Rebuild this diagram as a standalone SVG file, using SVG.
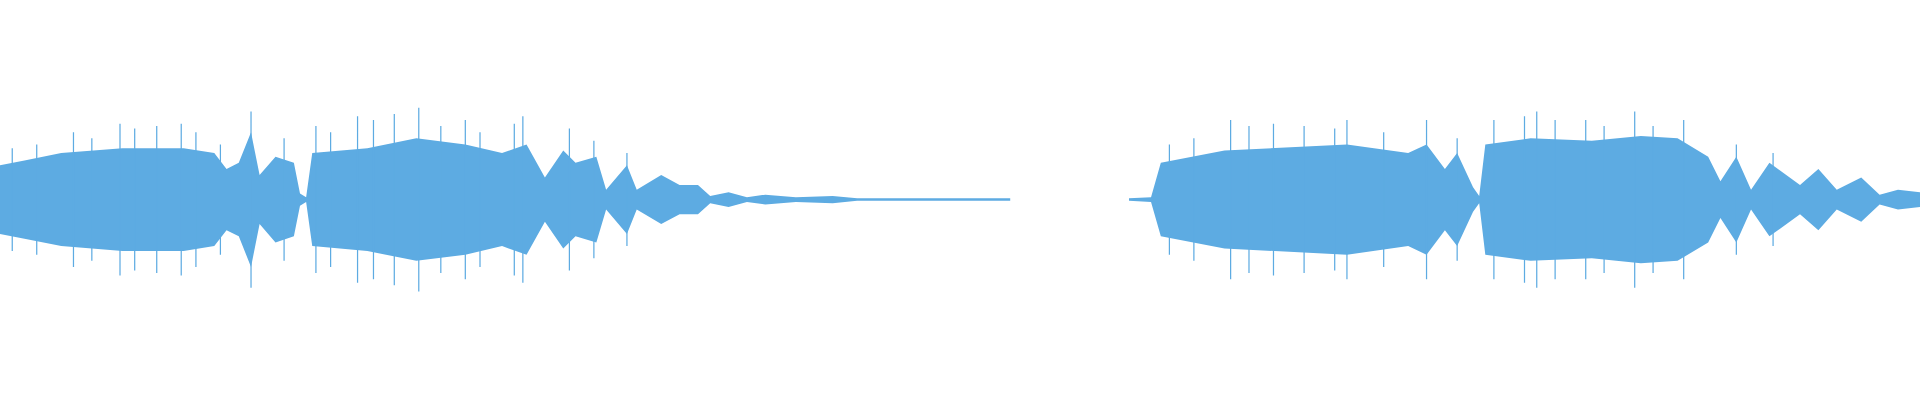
<svg xmlns="http://www.w3.org/2000/svg" width="1920" height="400" viewBox="0 0 1920 400">
<style>.core{fill:#5dabe2}.sp{stroke:#5dabe2;stroke-width:1;fill:none}</style>
<rect width="1920" height="400" fill="#fff"/>
<g id="waveform" transform="scale(1.2245)">
<polygon class="core" points="0,135 20,131 50,125 100,121 150,121 175,125 185,138 195,133 205,108 212,143 225,128 240,133 245,158 250,161 255,125 300,121 340,113 380,118 410,125 430,118 445,145 460,123 470,133 487,128 495,155 512,135 520,155 540,143 555,151 570,151 580,160 595,157 610,161 625,159 650,161 680,160 700,162 825,162 825,164 700,164 680,166 650,165 625,167 610,165 595,169 580,166 570,175 555,175 540,183 520,171 512,191 495,171 487,198 470,193 460,203 445,181 430,208 410,201 380,208 340,213 300,205 255,201 250,165 245,168 240,193 225,198 212,183 205,218 195,193 185,188 175,201 150,205 100,205 50,201 20,195 0,191"/>
<polygon class="core" points="922,162 940,161 948,133 1000,123 1100,118 1150,125 1165,118 1180,138 1190,125 1203,153 1208,160 1213,118 1250,113 1300,115 1340,111 1370,113 1395,128 1405,148 1418,128 1430,155 1445,133 1470,151 1485,138 1500,155 1520,145 1535,159 1550,155 1568,157 1568,169 1550,171 1535,167 1520,181 1500,171 1485,188 1470,175 1445,193 1430,171 1418,198 1405,178 1395,198 1370,213 1340,215 1300,211 1250,213 1213,208 1208,166 1203,173 1190,201 1180,188 1165,208 1150,201 1100,208 1000,203 948,193 940,165 922,164"/>
<path class="sp" d="M10 121V205M30 118V208M60 108V218M75 113V213M98 101V225M110 105V221M128 103V223M148 101V225M160 108V218M180 118V208M205 91V235M232 113V213M258 103V223M270 108V218M292 95V231M305 98V228M322 93V233M342 88V238M360 103V223M380 98V228M392 108V218M420 101V225M427 95V231M465 105V221M485 115V211M512 125V201M955 118V208M975 113V213M1005 98V228M1020 103V223M1040 101V225M1065 103V223M1090 105V221M1100 98V228M1130 108V218M1165 98V228M1190 113V213M1220 98V228M1245 95V231M1255 91V235M1270 98V228M1295 98V228M1310 103V223M1335 91V235M1350 103V223M1375 98V228M1418 118V208M1448 125V201"/>
</g>
</svg>
